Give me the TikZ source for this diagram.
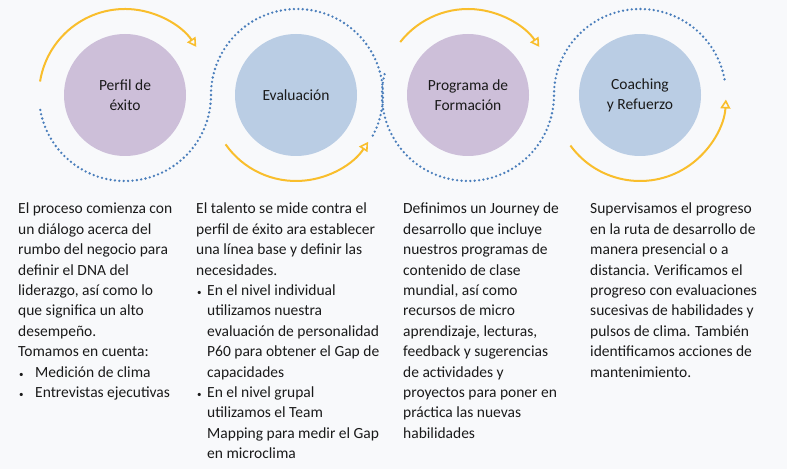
\documentclass[tikz,border=0pt]{standalone}
\usepackage{fontspec}
\setmainfont{Carlito}
\usetikzlibrary{arrows.meta}
\definecolor{bg}{HTML}{F8F9FB}
\definecolor{cpur}{HTML}{CDBFD9}
\definecolor{cblu}{HTML}{BACDE4}
\definecolor{cyel}{HTML}{F9BE2C}
\definecolor{cdot}{HTML}{4A7EBB}
\definecolor{ctxt}{HTML}{1A1A1A}
\begin{document}
\begin{tikzpicture}[x=1pt,y=1pt,
  circ/.style={circle,minimum size=122pt,inner sep=0,draw=none,font=\fontsize{15.5}{20}\selectfont,text=ctxt,align=center},
  yarc/.style={draw=cyel,line width=2pt,-{Triangle[open,length=9pt,width=10pt,line width=1.6pt]}},
  darc/.style={draw=cdot,line width=2.6pt,line cap=round,dash pattern=on 0pt off 4.4pt},
  desc/.style={anchor=north west,inner sep=0,align=left,text=ctxt,font=\fontsize{15.5}{20.4}\selectfont},
  bul/.style={}]
\fill[bg] (0,0) rectangle (787,469);
\useasboundingbox (0,0) rectangle (787,469);
\node[circ,fill=cpur] (c1) at (125,374) {Perfil de\\éxito};
\node[circ,fill=cblu] (c2) at (296,374) {Evaluación};
\node[circ,fill=cpur] (c3) at (468,374) {Programa de\\Formación};
\node[circ,fill=cblu] (c4) at (640,374) {Coaching\\y Refuerzo};
% yellow arcs
\draw[yarc] (c1.center) ++(171:86) arc[start angle=171,end angle=34,radius=86];
\draw[yarc] (c2.center) ++(215:86) arc[start angle=215,end angle=327,radius=86];
\draw[yarc] (c3.center) ++(142:86) arc[start angle=142,end angle=34,radius=86];
\draw[yarc] (c4.center) ++(216:86) arc[start angle=216,end angle=357,radius=86];
% dotted arcs
\draw[darc] (c1.center) ++(190:86) arc[start angle=190,end angle=360,radius=86]
   arc[start angle=180,end angle=-30,radius=86];
\draw[darc] (c3.center) ++(166:86) arc[start angle=166,end angle=360,radius=86]
   arc[start angle=180,end angle=9,radius=86];
% texts
\node[desc] (t1) at (18,266) {El proceso comienza con\\un diálogo acerca del\\rumbo del negocio para\\definir el DNA del\\liderazgo, así como lo\\que significa un alto\\desempeño.\\Tomamos en cuenta:\\\makebox[17pt][l]{\hspace{1pt}\small•}Medición de clima\\\makebox[17pt][l]{\hspace{1pt}\small•}Entrevistas ejecutivas};
\node[desc] (t2) at (196,266) {El talento se mide contra el\\perfil de éxito ara establecer\\una línea base y definir las\\necesidades.\\\makebox[11pt][l]{\hspace{1pt}\small•}En el nivel individual\\\hspace*{11pt}utilizamos nuestra\\\hspace*{11pt}evaluación de personalidad\\\hspace*{11pt}P60 para obtener el Gap de\\\hspace*{11pt}capacidades\\\makebox[11pt][l]{\hspace{1pt}\small•}En el nivel grupal\\\hspace*{11pt}utilizamos el Team\\\hspace*{11pt}Mapping para medir el Gap\\\hspace*{11pt}en microclima};
\node[desc] (t3) at (403,266) {Definimos un Journey de\\desarrollo que incluye\\nuestros programas de\\contenido de clase\\mundial, así como\\recursos de micro\\aprendizaje, lecturas,\\feedback y sugerencias\\de actividades y\\proyectos para poner en\\práctica las nuevas\\habilidades};
\node[desc] (t4) at (590,266) {Supervisamos el progreso\\en la ruta de desarrollo de\\manera presencial o a\\distancia. Verificamos el\\progreso con evaluaciones\\sucesivas de habilidades y\\pulsos de clima. También\\identificamos acciones de\\mantenimiento.};
\end{tikzpicture}
\end{document}
